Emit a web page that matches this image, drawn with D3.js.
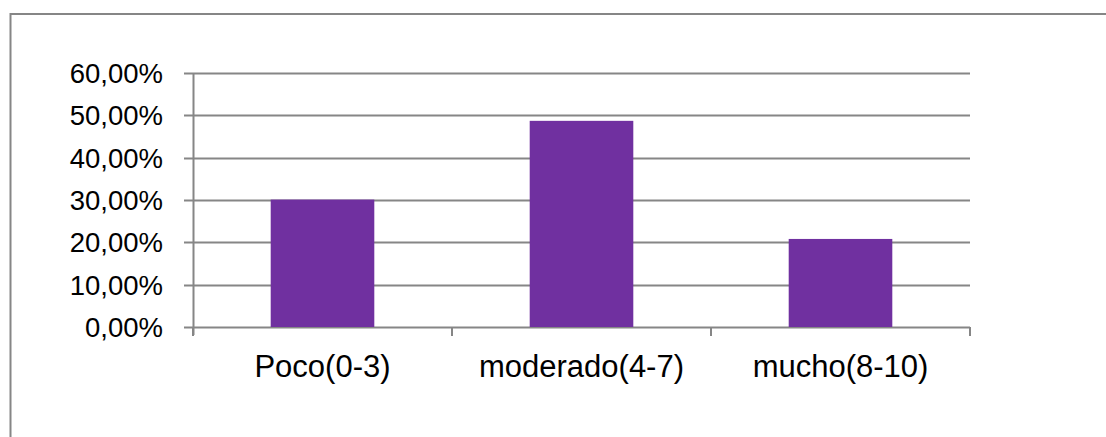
<!DOCTYPE html>
<html>
<head>
<meta charset="utf-8">
<script src="https://cdn.jsdelivr.net/npm/d3@7"></script>
<style>
  body { margin: 0; background: #fff; }
  svg { display: block; }
</style>
</head>
<body>
<div id="chart"></div>
<script>
// chart data
let categories = ["Poco(0-3)", "moderado(4-7)", "mucho(8-10)"];
let values = [30.1, 48.7, 20.8];
let yTicks = [0, 10, 20, 30, 40, 50, 60];

let width = 1106, height = 437;
let margin = { top: 73, right: 136, bottom: 110, left: 193 };
let innerW = width - margin.left - margin.right,
    innerH = height - margin.top - margin.bottom;

let svg = d3.select("#chart").append("svg")
    .attr("width", width)
    .attr("height", height);

// outer chart border (runs off right/bottom of frame)
svg.append("rect")
    .attr("x", 10.5)
    .attr("y", 14)
    .attr("width", 1200)
    .attr("height", 600)
    .attr("fill", "none")
    .attr("stroke", "#868686")
    .attr("stroke-width", 2);

let g = svg.append("g")
    .attr("transform", "translate(" + margin.left + "," + margin.top + ")");

let x = d3.scaleBand()
    .domain(categories)
    .range([0, innerW])
    .paddingInner(0.6)
    .paddingOuter(0.3);

let y = d3.scaleLinear()
    .domain([0, 60])
    .range([innerH, 0]);

// gridlines
g.selectAll(".grid")
    .data(yTicks)
    .enter().append("line")
    .attr("x1", -9)
    .attr("x2", innerW)
    .attr("y1", d => Math.round(y(d)) + 0.5)
    .attr("y2", d => Math.round(y(d)) + 0.5)
    .attr("stroke", "#868686")
    .attr("stroke-width", 2);

// y axis line
g.append("line")
    .attr("x1", 0.5).attr("x2", 0.5)
    .attr("y1", 0).attr("y2", innerH + 8)
    .attr("stroke", "#868686")
    .attr("stroke-width", 2);

// category boundary ticks
let step = x.step();
g.selectAll(".xtick")
    .data(d3.range(categories.length + 1))
    .enter().append("line")
    .attr("x1", i => i * step)
    .attr("x2", i => i * step)
    .attr("y1", innerH)
    .attr("y2", innerH + 9)
    .attr("stroke", "#868686")
    .attr("stroke-width", 2);

// bars
g.selectAll(".bar")
    .data(values)
    .enter().append("rect")
    .attr("x", (d, i) => x(categories[i]))
    .attr("y", d => y(d))
    .attr("width", x.bandwidth())
    .attr("height", d => innerH - y(d))
    .attr("fill", "#7030a0");

// y labels
g.selectAll(".ylab")
    .data(yTicks)
    .enter().append("text")
    .attr("x", -30)
    .attr("y", d => y(d))
    .attr("dy", "0.36em")
    .attr("text-anchor", "end")
    .attr("font-family", "Liberation Sans, Arial, sans-serif")
    .attr("font-size", 27.5)
    .attr("fill", "#000")
    .text(d => d.toFixed(2).replace(".", ",") + "%");

// x labels
g.selectAll(".xlab")
    .data(categories)
    .enter().append("text")
    .attr("x", d => x(d) + x.bandwidth() / 2)
    .attr("y", innerH + 50)
    .attr("text-anchor", "middle")
    .attr("font-family", "Liberation Sans, Arial, sans-serif")
    .attr("font-size", 31)
    .attr("fill", "#000")
    .text(d => d);
</script>
</body>
</html>
